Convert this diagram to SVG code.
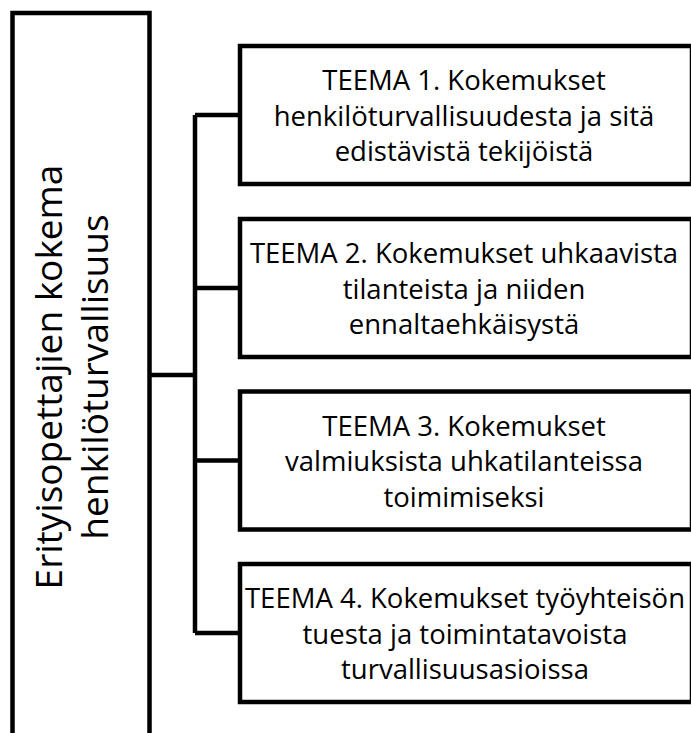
<svg xmlns="http://www.w3.org/2000/svg" width="691" height="733" viewBox="0 0 691 733">
<style>
.box{fill:#fff;stroke:#000;stroke-width:4.5}
.conn{fill:none;stroke:#000;stroke-width:4.5;stroke-linejoin:round}
.t{font-family:"Open Sans","Noto Sans",sans-serif;font-size:27.5px;fill:#000;text-anchor:middle}
.big{font-family:"Open Sans","Noto Sans",sans-serif;font-size:37px;fill:#000;text-anchor:middle}
</style>
<rect x="0" y="0" width="691" height="733" fill="#fff"/>
<g id="connectors">
<path class="conn" d="M150,375 H195 M195,115 V633 M195,115 H240 M195,288 H240 M195,460.5 H240 M195,633 H240"/>
</g>
<g id="main">
<rect class="box" x="12.5" y="13" width="137" height="760"/>
<g transform="translate(80,377) rotate(-90)">
<text class="big" x="0" y="-18">Erityisopettajien kokema</text>
<text class="big" x="0" y="28">henkilöturvallisuus</text>
</g>
</g>
<g id="teema1">
<rect class="box" x="240" y="46" width="452" height="138"/>
<text class="t" x="464" y="90">TEEMA 1. Kokemukset</text>
<text class="t" x="464" y="125.5">henkilöturvallisuudesta ja sitä</text>
<text class="t" x="464" y="161">edistävistä tekijöistä</text>
</g>
<g id="teema2">
<rect class="box" x="240" y="219" width="452" height="138"/>
<text class="t" x="464" y="263">TEEMA 2. Kokemukset uhkaavista</text>
<text class="t" x="464" y="298.5">tilanteista ja niiden</text>
<text class="t" x="464" y="334">ennaltaehkäisystä</text>
</g>
<g id="teema3">
<rect class="box" x="240" y="391.5" width="452" height="138"/>
<text class="t" x="464" y="435.5">TEEMA 3. Kokemukset</text>
<text class="t" x="464" y="471">valmiuksista uhkatilanteissa</text>
<text class="t" x="464" y="506.5">toimimiseksi</text>
</g>
<g id="teema4">
<rect class="box" x="240" y="564" width="452" height="138"/>
<text class="t" x="465" y="608">TEEMA 4. Kokemukset työyhteisön</text>
<text class="t" x="465" y="643.5">tuesta ja toimintatavoista</text>
<text class="t" x="465" y="679">turvallisuusasioissa</text>
</g>
</svg>
